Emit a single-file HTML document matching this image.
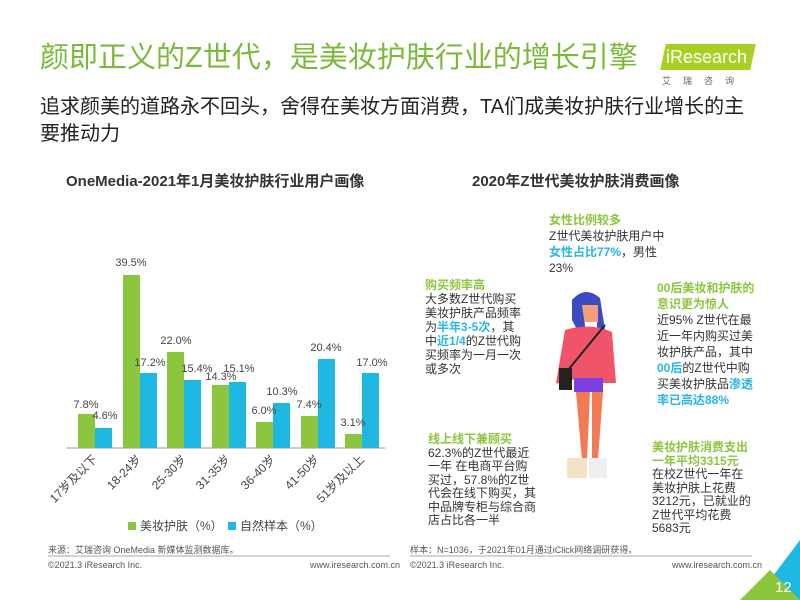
<!DOCTYPE html>
<html><head><meta charset="utf-8"><style>
body{margin:0;width:800px;height:600px;background:#fff;position:relative;overflow:hidden;font-family:"Liberation Sans","Noto Sans CJK SC",sans-serif;color:#333}
.a{position:absolute;white-space:nowrap}
.g{color:#8cc63f;font-weight:bold}
.b{color:#29b6e6;font-weight:bold}
.t{font-size:12px;line-height:16px}
</style></head><body>
<div class="a" style="left:40px;top:34px;font-size:29px;color:#7cb83a">颜即正义的Z世代，是美妆护肤行业的增长引擎</div>
<div class="a" style="left:663px;top:44px;width:90px;height:26px;background:#a8d022;transform:skewX(-12deg)"></div>
<div class="a" style="left:666px;top:47px;font-size:18px;color:#fff">iResearch</div>
<div class="a" style="left:662px;top:74px;font-size:9px;color:#666;letter-spacing:12px">艾瑞咨询</div>
<div class="a" style="left:40px;top:94px;font-size:20px;line-height:27px;color:#222">追求颜美的道路永不回头，舍得在美妆方面消费，TA们成美妆护肤行业增长的主<br>要推动力</div>
<div class="a" style="left:66px;top:170px;font-size:15px;font-weight:bold;color:#333">OneMedia-2021年1月美妆护肤行业用户画像</div>
<div class="a" style="left:472px;top:170px;font-size:15px;font-weight:bold;color:#333">2020年Z世代美妆护肤消费画像</div>
<svg class="a" style="left:0;top:0" width="800" height="600" font-family="Liberation Sans" font-size="11" fill="#444">
<line x1="66" y1="448" x2="385" y2="448" stroke="#999"/>
<g fill="#8cc63f"><rect x="78" y="414" width="17" height="34"/><rect x="123" y="275" width="17" height="173"/><rect x="167" y="352" width="17" height="96"/><rect x="212" y="385" width="17" height="63"/><rect x="256" y="422" width="17" height="26"/><rect x="301" y="416" width="17" height="32"/><rect x="345" y="434" width="17" height="14"/></g>
<g fill="#1fb8e3"><rect x="95" y="428" width="17" height="20"/><rect x="140" y="373" width="17" height="75"/><rect x="184" y="380" width="17" height="68"/><rect x="229" y="382" width="17" height="66"/><rect x="273" y="403" width="17" height="45"/><rect x="318" y="359" width="17" height="89"/><rect x="362" y="373" width="17" height="75"/></g>
<g text-anchor="middle"><text x="86" y="408">7.8%</text><text x="105" y="419">4.6%</text><text x="131" y="266">39.5%</text><text x="150" y="366">17.2%</text><text x="176" y="344">22.0%</text><text x="197" y="372">15.4%</text><text x="221" y="380">14.3%</text><text x="239" y="372">15.1%</text><text x="264" y="414">6.0%</text><text x="282" y="395">10.3%</text><text x="309" y="408">7.4%</text><text x="326" y="351">20.4%</text><text x="353" y="426">3.1%</text><text x="372" y="366">17.0%</text></g>
<g text-anchor="end" font-size="12"><text transform="translate(98,460) rotate(-45)">17岁及以下</text><text transform="translate(142,460) rotate(-45)">18-24岁</text><text transform="translate(187,460) rotate(-45)">25-30岁</text><text transform="translate(231,460) rotate(-45)">31-35岁</text><text transform="translate(276,460) rotate(-45)">36-40岁</text><text transform="translate(320,460) rotate(-45)">41-50岁</text><text transform="translate(365,460) rotate(-45)">51岁及以上</text></g>
<rect x="128" y="522" width="8" height="8" fill="#8cc63f"/><text x="140" y="530" font-size="12">美妆护肤（%）</text>
<rect x="228" y="522" width="8" height="8" fill="#1fb8e3"/><text x="240" y="530" font-size="12">自然样本（%）</text>
<path d="M572 300 Q585 285 600 298 L605 330 L590 325 L580 335 L572 320Z" fill="#3b4cc0"/>
<path d="M582 305 L598 305 L598 322 L585 326Z" fill="#f2a07b"/>
<rect x="585" y="322" width="12" height="8" fill="#fff"/>
<path d="M565 330 Q590 322 612 332 L616 383 L603 383 L600 378 L575 378 L566 385 L556 383Z" fill="#f0546b"/>
<path d="M574 378 L603 378 L603 392 L574 392Z" fill="#7b3fe4"/>
<line x1="605" y1="325" x2="568" y2="370" stroke="#222" stroke-width="2"/>
<rect x="559" y="368" width="13" height="22" fill="#222"/>
<path d="M576 392 L590 392 L587 460 L582 460Z M592 392 L603 392 L598 460 L592 460Z" fill="#f27a55"/>
<rect x="567" y="458" width="20" height="20" fill="#f4e2c4"/><rect x="589" y="458" width="18" height="20" fill="#eee"/>
<line x1="410" y1="556" x2="752" y2="556" stroke="#aaa"/><line x1="48" y1="556" x2="390" y2="556" stroke="#aaa"/>
<polygon points="755,600 800,540 800,600" fill="#1fb8e3"/><polygon points="740,600 770,570 800,600" fill="#8cc63f"/>
<text x="775" y="592" fill="#fff" font-size="15">12</text>
</svg>
<div class="a t" style="left:549px;top:212px"><span class="g">女性比例较多</span><br>Z世代美妆护肤用户中<br><span class="b">女性占比77%</span>，男性<br>23%</div>
<div class="a t" style="left:425px;top:278px;line-height:14px"><span class="g">购买频率高</span><br>大多数Z世代购买<br>美妆护肤产品频率<br>为<span class="b">半年3-5次</span>，其<br>中<span class="b">近1/4</span>的Z世代购<br>买频率为一月一次<br>或多次</div>
<div class="a t" style="left:657px;top:280px"><span class="g">00后美妆和护肤的<br>意识更为惊人</span><br>近95% Z世代在最<br>近一年内购买过美<br>妆护肤产品，其中<br><span class="b">00后</span>的Z世代中购<br>买美妆护肤品<span class="b">渗透<br>率已高达88%</span></div>
<div class="a t" style="left:428px;top:433px;line-height:13.5px"><span class="g">线上线下兼顾买</span><br>62.3%的Z世代最近<br>一年 在电商平台购<br>买过，57.8%的Z世<br>代会在线下购买，其<br>中品牌专柜与综合商<br>店占比各一半</div>
<div class="a t" style="left:652px;top:441px;line-height:13.5px"><span class="g">美妆护肤消费支出<br>一年平均3315元</span><br>在校Z世代一年在<br>美妆护肤上花费<br>3212元，已就业的<br>Z世代平均花费<br>5683元</div>
<div class="a" style="left:48px;top:543px;font-size:9px;color:#555">来源：艾瑞咨询 OneMedia 新媒体监测数据库。</div>
<div class="a" style="left:410px;top:543px;font-size:9px;color:#555">样本：N=1036，于2021年01月通过iClick网络调研获得。</div>
<div class="a" style="left:48px;top:560px;font-size:9px;color:#555">©2021.3 iResearch Inc.</div>
<div class="a" style="left:310px;top:560px;font-size:9px;color:#555">www.iresearch.com.cn</div>
<div class="a" style="left:410px;top:560px;font-size:9px;color:#555">©2021.3 iResearch Inc.</div>
<div class="a" style="left:672px;top:560px;font-size:9px;color:#555">www.iresearch.com.cn</div>
</body></html>
